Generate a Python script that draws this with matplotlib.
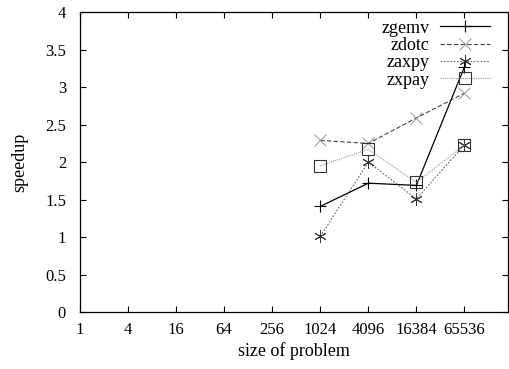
import matplotlib
import matplotlib.pyplot as plt

matplotlib.use("Agg")

plt.rcParams["font.family"] = ["Liberation Serif", "DejaVu Serif"]

SIZES = [1024, 4096, 16384, 65536]
XTICKS = [1, 4, 16, 64, 256, 1024, 4096, 16384, 65536]

ZGEMV = [1.41, 1.72, 1.69, 3.27]
ZDOTC = [2.29, 2.25, 2.59, 2.92]
ZAXPY = [1.01, 2.00, 1.51, 2.23]
ZXPAY = [1.95, 2.17, 1.73, 2.23]


def main():
    fig = plt.figure(figsize=(5.09, 3.69), dpi=100)
    ax = fig.add_axes([0.157, 0.154, 0.841, 0.813])

    ax.plot(SIZES, ZGEMV, color="black", linewidth=0.9, marker="+",
            markersize=9, markeredgewidth=0.8, label="zgemv")
    ax.plot(SIZES, ZDOTC, color="#444444", linewidth=0.8, linestyle=(0, (4, 2)),
            marker="x", markersize=8, markeredgewidth=0.7,
            markeredgecolor="#999999", label="zdotc")
    ax.plot(SIZES, ZAXPY, color="#666666", linewidth=0.8, linestyle=(0, (1.5, 1.5)),
            marker=(6, 2, 0), markersize=9, markeredgewidth=0.7,
            markeredgecolor="#333333", label="zaxpy")
    ax.plot(SIZES, ZXPAY, color="#999999", linewidth=0.8, linestyle=(0, (1, 1)),
            marker="s", markersize=8, markerfacecolor="none",
            markeredgewidth=0.8, markeredgecolor="#333333", label="zxpay")

    ax.set_xscale("log", base=2)
    ax.set_xlim(1, 2.3e5)
    ax.set_ylim(0, 4)
    ax.set_xticks(XTICKS)
    ax.set_xticklabels([str(v) for v in XTICKS])
    ax.minorticks_off()
    ax.set_yticks([0, 0.5, 1, 1.5, 2, 2.5, 3, 3.5, 4])
    ax.set_yticklabels(["0", "0.5", "1", "1.5", "2", "2.5", "3", "3.5", "4"])
    ax.tick_params(direction="in", top=True, right=True, length=4,
                   width=0.8, labelsize=12)
    ax.tick_params(axis="x", pad=7)
    ax.tick_params(axis="y", pad=10)
    for s in ax.spines.values():
        s.set_linewidth(0.9)

    ax.set_xlabel("size of problem", fontsize=13, labelpad=3)
    ax.set_ylabel("speedup", fontsize=13, labelpad=12)

    leg = ax.legend(loc="upper right", frameon=False, markerfirst=False,
                    fontsize=13, handlelength=2.75, handletextpad=0.6,
                    labelspacing=0.02, borderaxespad=0.0, borderpad=0.0,
                    bbox_to_anchor=(0.958, 0.975))
    for t in leg.get_texts():
        t.set_ha("right")

    plt.savefig("out.png", dpi=100)
    plt.close()


if __name__ == "__main__":
    main()
